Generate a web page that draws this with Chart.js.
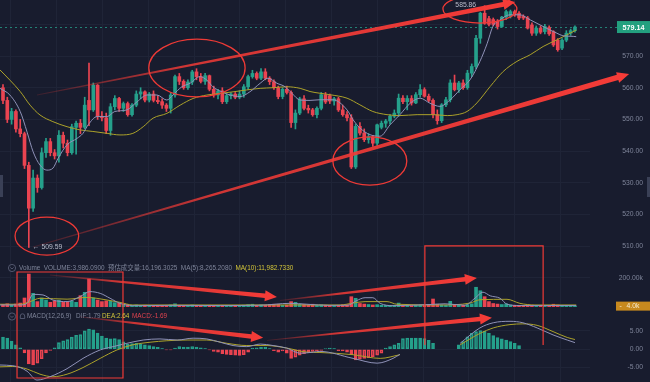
<!DOCTYPE html>
<html><head><meta charset="utf-8">
<script src="https://cdn.jsdelivr.net/npm/chart.js@4.4.1/dist/chart.umd.min.js"></script>
<style>
html,body{margin:0;padding:0;background:#181c2e;overflow:hidden}
canvas{display:block}
</style></head><body>
<canvas id="c" width="650" height="382" style="width:650px;height:382px"></canvas>
<script>
// ---------- data ----------
const opens = [560,556,550,552.5,547,545.5,535.5,522,531.5,528.5,
539.5,543,539.5,538.5,545,542.5,539.5,547.5,548.8,547.5,
556,553,560.8,551,550.5,546.5,554,556.6,553.5,555,
551.5,554.5,558,558.7,556.1,558,556,555.6,554.5,553.5,
557.7,563.5,562,560,561.8,565,563.5,562,563.8,559.5,
557.7,559,555.6,557.5,558,557,558,560.3,563.5,564.5,
563,565,563,561.9,560,557.2,559.5,558.5,549,552,
556.5,553.5,553,551.5,553.5,557.8,557.5,555.8,556.5,553,
551.5,550.5,535,547.8,545.7,543.6,544.5,542.5,547.5,548.8,
549.5,551,552,556.7,555.6,556.6,555.2,557.8,559.4,557.3,
556,551.5,549.6,554.6,556.2,561.5,559.4,561.5,560,564.6,
566.7,575.6,583.5,581.8,581.5,581,579.3,582.3,582.5,584,
583.5,582.5,582,579.8,577.2,578.8,577.7,579,577.7,575,
572.5,575,577.2,578];
const highs = [561,557,553.5,553,550,546,536.5,534,532.5,541,
544,544,540.5,546.5,546,543.5,548.5,549.5,550,557,
567.8,561.5,561,552.5,552,555,557.5,557,555.5,555.5,
555,559,560,559,558.5,559,557.5,556.5,555,558.5,
564,564.5,562.5,562.5,565.5,566,564.5,564.5,564,560.5,
559.5,560,558,558.5,558.5,559,561,564,565.5,565,
566,566,563.5,562.5,560.5,560,560.5,559,553,557,
557.5,554.5,553.5,554,558.5,558.5,558,557,557,554.5,
552.5,551.5,548.5,549,547,545.5,545,548.5,549.5,550,
551.5,553,558,557.5,557.5,557.5,558.5,561,560,558,
556.5,553,555,557,562.5,564,562,562.5,565.5,567.5,
576.5,583.8,585.86,582.5,582,581.5,582.5,584.5,584.5,584.5,
584,583,582.5,580.5,579.5,579.5,580,579.5,578,575.5,
575.5,578,578.5,579.5];
const lows = [555,549,548.5,546,544.5,534.5,509.59,521,527,528,
538,538.5,537.5,536.5,541,538.5,539,539,545.5,547,
548,552.5,550,549.5,545.5,545,553,552.5,552.5,551,
551,554,556.5,555.5,555.5,555.5,555,553.5,552.5,552,
557,561,559.5,559.5,561,562.5,561.5,561,559,557,
556.5,555,555,556.5,556.5,556.5,557,559.5,563,562.5,
562.5,562.5,561,559.5,556.5,556.5,558,547.5,547,551.5,
553,552,551,550.5,553,555,555,554.5,552.5,551,
549.5,534.5,534.5,545,543,542.5,541.5,541.8,547,547.5,
548.5,550.5,551,555,553,554.5,555,557,557,555.5,
550.5,548.5,549,554,555.5,559,558.5,559.5,559.5,563.5,
566,574,580,579.5,579.5,578.5,579,581.5,582,582.5,
581.5,581.5,578.5,576.5,576.5,577,577,576.5,573,571.5,
572,574.5,576.5,577.5];
const closes = [556,550,552.5,547,545.5,535.5,522,531.5,528.5,539.5,
543,539.5,538.5,545,542.5,539.5,547.7,548.8,547.5,554.5,
553,560.8,551,550.5,546.5,554,556.6,553.5,555,551.5,
554.5,558,558.7,556.1,558,556,555.6,554.5,553.5,557.7,
563.5,562,560,561.8,565,563.5,562,563.8,559.5,557.7,
559,555.6,557.5,558,557,558,560.3,563.5,564.5,563,
565,563,561.9,560,557.2,559.5,558.5,549,552,556.5,
553.5,553,551.5,553.5,557.8,555.5,555.8,556.5,553,551.5,
550.5,535,547.8,545.7,543.6,544.5,542.5,548.3,548.8,549.5,
551,552,556.7,555.6,556.6,555.2,557.8,559.4,557.3,556,
551.5,549.6,554.6,556.2,561.5,559.4,561.5,560,564.6,566.7,
575.6,583.5,580.3,580,580,579.3,582.3,584,584,583,
582,582,578.8,577.2,578.8,577.5,579.3,577,573.5,572,
575,577.2,578,579.14];
const volumes = [15000,20000,12000,18000,25000,60000,225000,92000,35000,60000,
46000,30000,40000,45000,30000,35000,40000,30000,76000,99000,
191000,60000,46000,35000,40000,38000,28000,25000,20000,15000,
9000,12000,8000,10000,7000,9000,6000,8000,7000,12000,
20000,10000,8000,7000,12000,9000,8000,6000,10000,8000,
7000,9000,6000,7000,5000,8000,10000,14000,17000,9000,
12000,10000,15000,17000,17000,9000,11000,35000,30000,18000,
15000,12000,17000,9000,12000,10000,9000,8000,10000,12000,
14000,69000,58000,22000,18000,15000,12000,14000,10000,9000,
8000,10000,25000,10000,9000,8000,10000,12000,9000,14000,
53000,17000,12000,10000,37000,15000,12000,10000,14000,20000,
134000,110000,69000,35000,22000,18000,15000,20000,12000,10000,
9000,8000,12000,10000,8000,9000,7000,10000,17000,12000,
9000,7000,6000,3986];
const macdHist = [3.3,3.0,2.2,1.2,0.4,-1.0,-4.0,-4.3,-3.8,-2.6,
-1.0,-0.3,0.4,1.8,2.3,2.6,3.3,3.8,4.0,5.0,
5.5,5.3,4.4,3.6,3.0,2.8,2.9,2.6,2.0,1.3,
1.5,1.6,1.5,1.2,1.0,0.7,0.5,0.2,-0.2,-0.2,
0.3,0.7,0.6,0.6,0.7,0.6,0.4,0.2,-0.2,-0.6,
-0.8,-1.2,-1.4,-1.5,-1.6,-1.7,-1.5,-0.8,0.3,0.4,
0.5,0.6,0.2,-0.4,-0.8,-0.5,-1.1,-2.5,-2.2,-1.6,
-1.2,-0.9,-0.6,-0.4,-0.3,0.2,0.3,0.2,-0.4,-0.5,
-0.8,-1.5,-2.9,-2.7,-2.5,-2.3,-2.0,-1.6,-1.1,0.3,
0.7,1.2,1.6,2.9,3.0,3.0,3.0,3.0,2.9,2.4,
1.6,null,null,null,null,null,1.2,2.1,3.4,4.3,
4.8,5.1,4.9,4.3,3.7,3.2,2.8,2.5,2.1,1.6,
1.0,null,null,null,null,null,null,null,null,null,
null,null,null,null];

// moving-average lines (position in candle units, value)
const maFastPos = [-0.7,1.6,4.0,5.6,7.0,8.6,10.2,11.6,12.8,14.9,17.2,18.6,19.8,21.9,24.2,26.0,28.8,31.2,33.5,35.8,38.1,39.5,41.6,43.5,45.8,47.4,48.8,50.9,52.8,55.1,57.4,59.8,61.6,63.7,65.6,67.2,69.1,71.4,73.7,76.7,80.0,81.4,83.0,85.3,87.7,90.0,92.3,94.7,97.0,99.3,101.6,104.0,106.3,108.6,110.9,112.6,113.9,115.6,117.9,120.2,122.6,124.9,127.2,128.8,130.2,132.6,133.3];
const maFastVal = [559.8,557.7,552.5,546,539.8,535.6,534,534.6,537.7,542,544,545.6,548.3,550.9,550.9,552.5,553,555.6,557.7,557.7,556.1,557.7,560.3,561.4,563.5,562.4,560.3,558.7,557.7,557.2,558.7,561.4,563,561.4,560.3,558.2,556.1,556,556.2,556.2,553,549.9,547.3,545.2,544.7,548.3,551.5,555.1,556.7,555.1,554.1,556.2,559.4,562.5,568.3,574,579.3,581.4,583,583,581.4,579.8,578.2,577.2,576.4,576.2,576.1];
const maSlowPos = [-0.7,1.6,4.0,6.3,8.6,11.6,14.9,17.9,20.9,24.2,27.2,30.2,32.6,34.9,38.1,41.2,44.2,47.4,50.5,53.5,56.7,59.8,62.8,66.0,69.1,71.4,76.0,80.0,83.0,86.0,89.3,92.3,96.3,100.0,103.3,105.6,107.9,110.2,113.3,116.3,119.5,122.6,125.6,128.8,131.2,133.3];
const maSlowVal = [565.6,562.4,558.8,554.5,551.4,549.3,547.7,546.7,546.2,545.6,545.1,545.6,547.7,550.4,551.9,554.5,556.6,557.7,558.2,558.7,559.3,559.8,560,560.3,559.8,558.8,557.8,556.7,554.6,552.5,551.5,551.2,551.5,551.5,551.2,551.5,552.5,555.2,560.4,565.1,568.3,570.4,573,575.1,576.7,578.2];
const volFastPos = [-0.7,4.0,5.6,7.0,9.3,11.6,14.9,17.9,20.2,22.6,24.9,27.2,30.2,38.8,50.5,59.8,66.7,70.7,76.0,80.2,82.1,84.2,86.0,87.7,90.7,99.3,102.8,107.4,109.8,111.6,113.3,115.6,117.2,120.2,133.3];
const volFastVal = [12000,12000,23000,85000,81000,46000,35000,69000,104000,92000,58000,23000,7000,9000,8000,10000,23000,17000,9000,10000,40000,62000,62000,23000,7000,15000,20000,10000,60000,100000,75000,58000,17000,8000,8265];
const volSlowPos = [-0.7,4.0,6.3,8.6,14.9,19.5,24.2,27.2,30.2,69.1,78.4,81.4,84.2,89.3,91.6,101.6,108.6,110.9,117.2,120.2,123.7,133.3];
const volSlowVal = [17000,17000,35000,58000,52000,64000,46000,30000,12000,12000,12000,25000,35000,35000,17000,12000,25000,48000,51000,23000,12000,11983];
const difPos = [-0.7,2.3,4.0,5.6,7.9,10.9,14.9,18.6,22.6,25.6,28.8,32.6,36.5,40.5,44.2,47.4,50.5,53.5,56.7,59.8,62.8,66.0,69.1,72.1,73.7,81.4,87.0,90.7,92.3,99,106.3,110.9,114.0,117.9,120.9,124.2,127.9,131.2,133.0];
const difVal = [-4.3,-4.5,-5.0,-6.0,-8.4,-7.5,-5.3,-2.5,-0.2,0.7,1.6,2.5,2.8,2.5,3.0,2.8,1.9,1.0,0.7,1.4,1.0,0.3,-1.1,-0.8,-0.6,-2.5,-3.8,-2.5,-1.4,null,1.6,5.8,7.2,7.6,7.2,5.8,3.9,2.5,1.79];
const deaPos = [-0.7,2.3,5.6,8.6,11.6,14.9,18.6,22.6,26.5,30.2,34.2,38.1,42.8,47.4,52.1,56.7,61.4,66.0,70.7,73.7,81.4,87.7,92.3,99,106.3,110.9,114.0,117.9,120.9,124.2,127.9,131.2,133.0];
const deaVal = [-4.8,-4.7,-5.4,-6.8,-7.5,-6.8,-5.0,-2.5,-0.2,1.2,1.9,2.3,2.5,2.5,1.6,1.0,1.0,0.3,-0.8,-0.9,-1.5,-2.5,-1.5,null,1.2,4.3,5.8,6.7,6.9,6.5,4.8,3.2,2.64];

// tick labels and legend texts
const priceTicks = [510,520,530,540,550,560,570,580];
const volTicks = [200000];
const macdTicks = [-5,0,5];
const volLegend = ['Volume','VOLUME:3,986.0900','预估成交量:16,196.3025','MA(5):8,265.2080','MA(10):11,982.7330'];
const macdLegend = ['MACD(12,26,9)','DIF:1.79','DEA:2.64','MACD:-1.69'];

// ---------- styles / layout ----------
const BG='#181c2e', GRID='#1f2437', TXT='#7e8499';
const UP='#25a08b', DN='#ea4451', GREYL='#8f92b8', YEL='#aca22a', RED='#ef3a36';
const FONT="'Liberation Sans', Arial, 'Noto Sans CJK SC', sans-serif";
const N = closes.length;
const idx = Array.from({length:N},(_,i)=>i);
const candleColor = idx.map(i=>closes[i]>=opens[i]?UP:DN);
const wickData = idx.map(i=>({x:i,y:[lows[i],highs[i]]}));
const bodyData = idx.map(i=>{let a=Math.min(opens[i],closes[i]),b=Math.max(opens[i],closes[i]);if(b-a<0.3){const m=(a+b)/2;a=m-0.15;b=m+0.15;}return {x:i,y:[a,b]};});
const volData = idx.map(i=>({x:i,y:volumes[i]}));
const macdData = idx.map(i=>({x:i,y:macdHist[i]}));
const histFill=[], histBorder=[];
macdHist.forEach((v,i)=>{
  if(v==null){histFill.push('rgba(0,0,0,0)');histBorder.push('rgba(0,0,0,0)');return;}
  const prev=(i>0&&macdHist[i-1]!=null)?macdHist[i-1]:v;
  const c=v>=0?UP:DN;
  histFill.push(v>prev?'rgba(0,0,0,0)':c); histBorder.push(c);
});
const zip=(p,v)=>p.map((x,k)=>({x,y:v[k]}));
const gridX=[]; for(let g=1.85; g<136; g+=10.65) gridX.push(g);
const lineDs=(data,axis,color)=>({type:'line',data,yAxisID:axis,borderColor:color,borderWidth:1,pointRadius:0,tension:0.35,cubicInterpolationMode:'monotone',spanGaps:false,order:0});
const zeroPad=s=>{s.paddingTop=0;s.paddingBottom=0;s.paddingLeft=0;s.paddingRight=0;};
const yAxis=(weight,min,max,ticks,fmt)=>({type:'linear',position:'right',stack:'panes',stackWeight:weight,min,max,offset:false,
  grid:{color:GRID,drawTicks:false,offset:false},border:{display:false},
  ticks:{color:TXT,font:{size:6.8,family:FONT},padding:4,crossAlign:'far',callback:fmt},
  afterBuildTicks:s=>{s.ticks=ticks.map(v=>({value:v}));},
  afterFit:s=>{s.width=53;zeroPad(s);}});

// ---------- annotations (drawn through the scales) ----------
const ringMarks=[[45.1,566.2,11.2,9.1],[110.9,584.8,8.6,4.4],[85.3,536.9,8.6,7.6],[10.2,513.2,7.4,6.0]];
const trendArrows=[
  ['y',7.9,557.7,119.1,587.0,0.8,5],
  ['y',7.0,509.75,145.6,564.3,0.8,5.5],
  ['yv',10.9,218600,63.7,66900,1,4.5],
  ['yv',64.4,42800,110.2,197900,0.8,4.5],
  ['ym',17.9,8.83,60.5,3.09,1,4.5],
  ['ym',61.4,2.40,113.7,8.55,0.8,4.5]];
const frames=[[3.26,27.9,'yv',239300,'ym',-7.84,true],[98.1,125.6,'y',510.1,'ym',1.17,false]];

function taper(ctx,x0,y0,x1,y1,w0,w1){
  const dx=x1-x0,dy=y1-y0,L=Math.hypot(dx,dy),ux=dx/L,uy=dy/L,nx=-uy,ny=ux;
  const hl=12,hw=5.5,bx=x1-ux*hl,by=y1-uy*hl;
  const g=ctx.createLinearGradient(x0,y0,x1,y1);
  g.addColorStop(0,'rgba(239,58,54,0.15)');g.addColorStop(0.3,'rgba(239,58,54,0.85)');g.addColorStop(1,'rgba(246,60,56,1)');
  ctx.fillStyle=g;ctx.beginPath();
  ctx.moveTo(x0+nx*w0/2,y0+ny*w0/2);ctx.lineTo(bx+nx*w1/2,by+ny*w1/2);ctx.lineTo(bx+nx*hw,by+ny*hw);ctx.lineTo(x1,y1);
  ctx.lineTo(bx-nx*hw,by-ny*hw);ctx.lineTo(bx-nx*w1/2,by-ny*w1/2);ctx.lineTo(x0-nx*w0/2,y0-ny*w0/2);ctx.closePath();ctx.fill();
}
function icon(ctx,x,y){ctx.strokeStyle='#5f657c';ctx.lineWidth=0.8;ctx.beginPath();ctx.arc(x,y,3.6,0,Math.PI*2);ctx.stroke();
  ctx.beginPath();ctx.moveTo(x-1.6,y-0.6);ctx.lineTo(x,y+1);ctx.lineTo(x+1.6,y-0.6);ctx.stroke();}

const annot={id:'annot',
  beforeDatasetsDraw(chart){
    const ctx=chart.ctx,Y=chart.scales.y;
    const y=Math.round(Y.getPixelForValue(closes[N-1]))+0.5;
    ctx.save();ctx.strokeStyle='rgba(38,164,141,0.75)';ctx.lineWidth=1;ctx.setLineDash([2,3]);
    ctx.beginPath();ctx.moveTo(0,y);ctx.lineTo(617,y);ctx.stroke();ctx.restore();
  },
  afterDatasetsDraw(chart){
    const ctx=chart.ctx,S=chart.scales,X=S.x,Y=S.y;
    ctx.save();
    ctx.strokeStyle=RED;ctx.lineWidth=1.3;
    ringMarks.forEach(([i,p,ri,rp])=>{const cx=X.getPixelForValue(i),cy=Y.getPixelForValue(p);
      const rx=X.getPixelForValue(i+ri)-cx,ry=cy-Y.getPixelForValue(p+rp);
      ctx.beginPath();ctx.ellipse(cx,cy,rx,ry,0,0,Math.PI*2);ctx.stroke();});
    ctx.lineWidth=1.2;
    frames.forEach(([i0,i1,ta,tv,ba,bv,closed])=>{const x0=X.getPixelForValue(i0),x1=X.getPixelForValue(i1),
      y0=S[ta].getPixelForValue(tv),y1=S[ba].getPixelForValue(bv);ctx.beginPath();
      if(closed){ctx.rect(x0,y0,x1-x0,y1-y0);}else{ctx.moveTo(x0,y1);ctx.lineTo(x0,y0);ctx.lineTo(x1,y0);ctx.lineTo(x1,y1);}
      ctx.stroke();});
    trendArrows.forEach(([ax,i0,v0,i1,v1,w0,w1])=>{const A=S[ax];
      taper(ctx,X.getPixelForValue(i0),A.getPixelForValue(v0),X.getPixelForValue(i1),A.getPixelForValue(v1),w0,w1);});
    let hi=0,lo=0;idx.forEach(i=>{if(highs[i]>highs[hi])hi=i;if(lows[i]<lows[lo])lo=i;});
    ctx.font='6.8px '+FONT;ctx.fillStyle='#b9bccb';ctx.textBaseline='middle';
    ctx.textAlign='right';ctx.fillText(highs[hi].toFixed(2),X.getPixelForValue(hi)-8.5,Y.getPixelForValue(highs[hi])-0.5);
    ctx.textAlign='left';ctx.fillText('← '+lows[lo].toFixed(2),X.getPixelForValue(lo)+4,Y.getPixelForValue(lows[lo]));
    ctx.restore();
  },
  afterDraw(chart){
    const ctx=chart.ctx,S=chart.scales,Y=S.y,V=S.yv,M=S.ym;
    ctx.save();
    let y=Y.getPixelForValue(closes[N-1]);
    ctx.fillStyle='#23a07f';ctx.fillRect(617,y-6,33,12);
    ctx.fillStyle='#ffffff';ctx.font='bold 7.2px '+FONT;ctx.textAlign='center';ctx.textBaseline='middle';
    ctx.fillText(closes[N-1].toFixed(2),633.5,y+0.5);
    y=V.getPixelForValue(volumes[N-1]);
    ctx.fillStyle='#c7891e';ctx.fillRect(616,y-4.5,34,9);
    ctx.fillStyle='#f5ead0';ctx.font='6.8px '+FONT;ctx.textAlign='left';ctx.fillText('-',619.5,y);
    ctx.textAlign='center';ctx.fillText((volumes[N-1]/1000).toFixed(1)+'k',633,y+0.5);
    ctx.font='6.4px '+FONT;ctx.textAlign='left';ctx.textBaseline='middle';
    let ly=V.top+8;icon(ctx,12,ly);
    const vc=[TXT,TXT,TXT,TXT,'#d2c53a'];let lx=19;
    volLegend.forEach((t,k)=>{ctx.fillStyle=vc[k];ctx.fillText(t,lx,ly);lx+=ctx.measureText(t).width+3.5;});
    ly=M.top+7.5;icon(ctx,12,ly);
    ctx.strokeStyle='#5f657c';ctx.lineWidth=0.8;ctx.beginPath();ctx.arc(22.5,ly-0.5,2.2,Math.PI,0);ctx.lineTo(24.7,ly+2);ctx.lineTo(20.3,ly+2);ctx.closePath();ctx.stroke();
    const mx=[27,76,102,132],mc=[TXT,TXT,'#d2c53a','#e0434f'];
    macdLegend.forEach((t,k)=>{ctx.fillStyle=mc[k];ctx.fillText(t,mx[k],ly);});
    ctx.fillStyle='#3a4056';ctx.fillRect(0,175,3,22);ctx.fillRect(647,177,3,20);
    ctx.restore();
  }};

new Chart(document.getElementById('c'),{
  type:'bar',
  data:{datasets:[
    lineDs(zip(maFastPos,maFastVal),'y',GREYL),
    lineDs(zip(maSlowPos,maSlowVal),'y',YEL),
    {type:'bar',data:bodyData,yAxisID:'y',backgroundColor:candleColor,barThickness:3,grouped:false,order:1},
    {type:'bar',data:wickData,yAxisID:'y',backgroundColor:candleColor,barThickness:1,grouped:false,order:2},
    lineDs(zip(volFastPos,volFastVal),'yv',GREYL),
    lineDs(zip(volSlowPos,volSlowVal),'yv',YEL),
    {type:'bar',data:volData,yAxisID:'yv',backgroundColor:candleColor,barThickness:3,grouped:false,order:1},
    lineDs(zip(difPos,difVal),'ym',GREYL),
    lineDs(zip(deaPos,deaVal),'ym',YEL),
    {type:'bar',data:macdData,yAxisID:'ym',backgroundColor:histFill,borderColor:histBorder,borderWidth:1,borderSkipped:false,barThickness:3,grouped:false,order:1}
  ]},
  options:{responsive:false,animation:false,devicePixelRatio:1,layout:{padding:{top:0,bottom:0,left:0,right:7}},
    plugins:{legend:{display:false},tooltip:{enabled:false}},
    scales:{
      x:{type:'linear',min:-0.698,max:136.5,offset:false,grid:{color:GRID,drawTicks:false,offset:false},border:{display:false},
         ticks:{display:false},afterBuildTicks:s=>{s.ticks=gridX.map(v=>({value:v}));},afterFit:s=>{s.height=0;zeroPad(s);}},
      y:yAxis(260,505.65,587.67,priceTicks,v=>v>575?'':v.toFixed(2)),
      yv:yAxis(49,-15900,322000,volTicks,v=>(v/1000).toFixed(2)+'k'),
      ym:yAxis(73,-8.93,10.95,macdTicks,v=>v.toFixed(2))
    }},
  plugins:[annot]
});
</script>
</body></html>
